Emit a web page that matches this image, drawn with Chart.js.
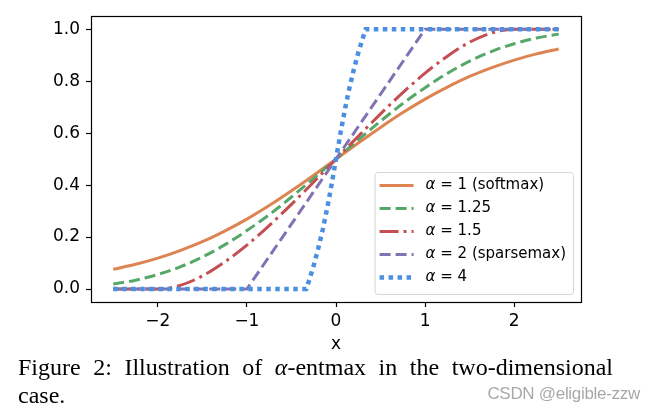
<!DOCTYPE html>
<html>
<head>
<meta charset="utf-8">
<script src="https://cdn.jsdelivr.net/npm/chart.js@4.4.0/dist/chart.umd.min.js"></script>
<style>
  html, body { margin: 0; padding: 0; background: #fff; }
  #wrap { position: relative; width: 655px; height: 415px; overflow: hidden; }
  #wrap canvas { position: absolute; left: 0; top: 0; }
  .cap { position: absolute; left: 18px; width: 595px; font-family: "Liberation Serif", "DejaVu Serif", serif;
         font-size: 24px; line-height: 28px; color: #000; white-space: nowrap; }
  #cap1 { top: 353px; text-align: justify; text-align-last: justify; white-space: normal; }
  #cap2 { top: 381px; }
  #mark { position: absolute; right: 15px; top: 384px; font-family: "Liberation Sans", Arial, sans-serif;
          font-size: 17px; color: #a8a8a8; letter-spacing: -0.3px; }
</style>
</head>
<body>
<div id="wrap">
  <canvas id="myChart" width="655" height="415"></canvas>
  <div class="cap" id="cap1">Figure 2: Illustration of <i>α</i>-entmax in the two-dimensional</div>
  <div class="cap" id="cap2">case.</div>
  <div id="mark">CSDN @eligible-zzw</div>
</div>
<script>
// x grid shared by the smooth curves
var xGrid = [-2.5, -2.25, -2, -1.75, -1.5, -1.25, -1, -0.75, -0.5, -0.25, 0,
             0.25, 0.5, 0.75, 1, 1.25, 1.5, 1.75, 2, 2.25, 2.5];

var softmaxY = [0.076, 0.095, 0.119, 0.148, 0.182, 0.223, 0.269, 0.321, 0.378, 0.438, 0.5,
                0.562, 0.622, 0.679, 0.731, 0.777, 0.818, 0.852, 0.881, 0.905, 0.924];
var entmax125Y = [0.019, 0.034, 0.056, 0.085, 0.123, 0.170, 0.225, 0.286, 0.354, 0.426, 0.5,
                  0.574, 0.646, 0.714, 0.775, 0.830, 0.877, 0.915, 0.944, 0.966, 0.981];
var entmax15Y = [0, 0, 0, 0.014, 0.050, 0.104, 0.169, 0.244, 0.326, 0.412, 0.5,
                 0.588, 0.674, 0.756, 0.831, 0.896, 0.950, 0.986, 1, 1, 1];

var sparsemaxX = [-2.5, -1, 1, 2.5];
var sparsemaxY = [0, 0, 1, 1];

var entmax4X = [-2.5, -0.333, -0.3, -0.25, -0.2, -0.15, -0.1, -0.05, 0,
                0.05, 0.1, 0.15, 0.2, 0.25, 0.3, 0.333, 2.5];
var entmax4Y = [0, 0, 0.035, 0.091, 0.155, 0.227, 0.309, 0.401, 0.5,
                0.599, 0.691, 0.773, 0.845, 0.909, 0.965, 1, 1];

var seriesLabels = ['α = 1 (softmax)', 'α = 1.25', 'α = 1.5', 'α = 2 (sparsemax)', 'α = 4'];
var xTicks = [-2, -1, 0, 1, 2];
var yTicks = [0, 0.2, 0.4, 0.6, 0.8, 1.0];

function pts(xs, ys) {
    return xs.map(function (x, i) { return {x: x, y: ys[i]}; });
}

var colors = ['#dd8452', '#55a868', '#c44e52', '#8172b3', '#4a8fe0'];
var dashes = [[], [11, 5], [19, 5, 3, 5], [11, 5], [4.5, 4.5]];
var widths = [3, 3, 3, 3, 4.5];

var chartData = {
    datasets: [
        {data: pts(xGrid, softmaxY), cubicInterpolationMode: 'monotone', order: 5},
        {data: pts(xGrid, entmax125Y), cubicInterpolationMode: 'monotone', order: 4},
        {data: pts(xGrid, entmax15Y), cubicInterpolationMode: 'monotone', order: 3},
        {data: pts(sparsemaxX, sparsemaxY), order: 2},
        {data: pts(entmax4X, entmax4Y), order: 1}
    ]
};
chartData.datasets.forEach(function (d, i) {
    d.label = seriesLabels[i];
    d.borderColor = colors[i];
    d.backgroundColor = colors[i];
    d.borderDash = dashes[i];
    d.borderWidth = widths[i];
    d.borderCapStyle = 'butt';
    d.pointRadius = 0;
    d.fill = false;
});

// full box around the axes, like matplotlib spines
var framePlugin = {
    id: 'frame',
    afterDatasetsDraw: function (chart) {
        var ca = chart.chartArea, ctx = chart.ctx;
        ctx.save();
        ctx.strokeStyle = '#000';
        ctx.lineWidth = 1.2;
        ctx.strokeRect(Math.round(ca.left) + 0.5, Math.round(ca.top) + 0.5,
                       Math.round(ca.right - ca.left), Math.round(ca.bottom - ca.top));
        ctx.restore();
    }
};

// legend inside the plot, lower right
var legendPlugin = {
    id: 'boxLegend',
    afterDraw: function (chart) {
        var ca = chart.chartArea, ctx = chart.ctx;
        var font = '15px "DejaVu Sans"', ifont = 'italic 15px "DejaVu Sans"';
        ctx.save();
        var maxW = 0;
        seriesLabels.forEach(function (l) {
            ctx.font = ifont; var w = ctx.measureText('α').width;
            ctx.font = font; w += ctx.measureText(l.slice(1)).width;
            maxW = Math.max(maxW, w);
        });
        var rowH = 23, padX = 5, handle = 34, gap = 12;
        var boxW = padX + handle + gap + maxW + 7;
        var boxH = rowH * seriesLabels.length + 7;
        var right = ca.right - 8, bottom = ca.bottom - 8;
        var left = right - boxW, top = bottom - boxH;
        ctx.beginPath();
        ctx.roundRect(left + 0.5, top + 0.5, boxW, boxH, 3);
        ctx.fillStyle = 'rgba(255,255,255,0.8)';
        ctx.fill();
        ctx.strokeStyle = '#d6d6d6';
        ctx.lineWidth = 1;
        ctx.stroke();
        chart.data.datasets.forEach(function (d, i) {
            var y = top + 13.5 + i * rowH;
            ctx.beginPath();
            ctx.setLineDash(d.borderDash);
            ctx.lineCap = 'butt';
            ctx.strokeStyle = d.borderColor;
            ctx.lineWidth = d.borderWidth;
            ctx.moveTo(left + padX, y);
            ctx.lineTo(left + padX + handle, y);
            ctx.stroke();
            ctx.setLineDash([]);
            ctx.fillStyle = '#000';
            ctx.textBaseline = 'middle';
            var tx = left + padX + handle + gap;
            ctx.font = ifont;
            ctx.fillText('α', tx, y);
            tx += ctx.measureText('α').width;
            ctx.font = font;
            ctx.fillText(d.label.slice(1), tx, y);
        });
        ctx.restore();
    }
};

var chartOptions = {
    responsive: false,
    animation: false,
    layout: {padding: {left: 0, right: 74, top: 16, bottom: 60}},
    plugins: {legend: {display: false}, tooltip: {enabled: false}},
    scales: {
        x: {
            type: 'linear', min: -2.75, max: 2.75,
            border: {display: false},
            grid: {drawOnChartArea: false, drawTicks: true, tickLength: 5, color: '#000', tickWidth: 1.2},
            afterBuildTicks: function (axis) { axis.ticks = xTicks.map(function (v) { return {value: v}; }); },
            afterFit: function (axis) { axis.height = 53; },
            ticks: {
                color: '#000', padding: 4, maxRotation: 0, font: {size: 17},
                callback: function (v) { return v < 0 ? '\u2212' + Math.abs(v) : String(v); }
            },
            title: {display: true, text: 'x', color: '#000', font: {size: 17}, padding: {top: 0, bottom: 0}}
        },
        y: {
            type: 'linear', min: -0.05, max: 1.05,
            border: {display: false},
            grid: {drawOnChartArea: false, drawTicks: true, tickLength: 5, color: '#000', tickWidth: 1.2},
            afterBuildTicks: function (axis) { axis.ticks = yTicks.map(function (v) { return {value: v}; }); },
            afterFit: function (axis) { axis.width = 91; },
            ticks: {
                color: '#000', padding: 6, font: {size: 17},
                callback: function (v) { return v.toFixed(1); }
            }
        }
    }
};

Chart.defaults.font.family = '"DejaVu Sans", sans-serif';
var element = document.getElementById('myChart').getContext('2d');
var chart = new Chart(element, {type: 'line', data: chartData, options: chartOptions,
                                plugins: [framePlugin, legendPlugin]});
</script>
</body>
</html>
